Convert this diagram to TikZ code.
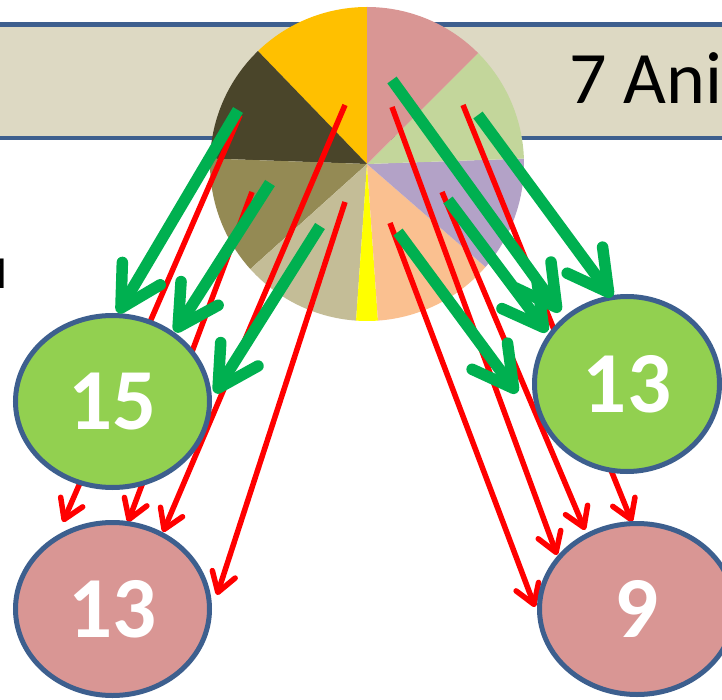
\documentclass[tikz,border=0pt]{standalone}
\usepackage{fontspec}
\setmainfont{Carlito}
\usetikzlibrary{arrows.meta,shapes.geometric}
\definecolor{edgeblue}{HTML}{3D5F8E}
\definecolor{bannerfill}{HTML}{DDD9C3}
\definecolor{pgold}{HTML}{FFC000}
\definecolor{ppink}{HTML}{D99694}
\definecolor{plgreen}{HTML}{C3D69B}
\definecolor{plav}{HTML}{B3A2C7}
\definecolor{ppeach}{HTML}{FAC090}
\definecolor{pyellow}{HTML}{FFFF00}
\definecolor{ptan}{HTML}{C4BD97}
\definecolor{polive}{HTML}{948A54}
\definecolor{pdark}{HTML}{4A452A}
\definecolor{arrgreen}{HTML}{00B050}
\definecolor{arrred}{HTML}{FF0000}
\definecolor{blobgreen}{HTML}{92D050}
\definecolor{blobpink}{HTML}{D99694}
\begin{document}
\begin{tikzpicture}[x=1pt,y=-1pt,
  garrow/.style={draw=arrgreen, line width=11.5pt, -{Straight Barb[length=40pt,width=44pt,round]}},
  rarrow/.style={draw=arrred, line width=5.5pt, -{Straight Barb[length=19pt,width=24pt,round]}},
  blob/.style={ellipse, draw=edgeblue, line width=5pt, inner sep=0pt, text=white,
    font=\bfseries\fontsize{87}{87}\selectfont}]
\useasboundingbox (0,0) rectangle (722,700);
\clip (0,0) rectangle (722,700);
% banner
\node[draw=edgeblue, fill=bannerfill, line width=4.5pt, rectangle, inner sep=0pt,
  minimum width=760pt, minimum height=113.5pt] (banner) at (361,81.25) {};
\node[anchor=base west, font=\fontsize{74}{74}\selectfont] (title) at (566,104) {7 Ani};
\node[anchor=base east, font=\fontsize{46}{46}\selectfont] (mtext) at (11,288) {M};
% pie
\coordinate (pc) at (367,164);
\foreach \a/\b/\c in {-90/-134/pgold, -134/-178/pdark, -178/-222/polive, -222/-266/ptan,
  -266/-274/pyellow, -274/-319/ppeach, -319/-362/plav, -2/-45/plgreen, -45/-90/ppink}{
  \fill[\c] (pc) -- ++(\a:157) arc[start angle=\a, end angle=\b, radius=157] -- cycle;
}
% red arrows
\foreach \n/\sx/\sy/\ex/\ey in {1/240/115/63/522, 2/252/192/128/522, 3/345/105/163/532,
  4/345/202/217/595, 5/392/107/557/555, 6/463/105/632/522, 7/442/192/585/530,
  8/390/223/535/607}{
  \coordinate (r\n s) at (\sx,\sy);
  \coordinate (r\n e) at (\ex,\ey);
  \draw[rarrow] (r\n s) -- (r\n e);
}
% ellipses
\node[blob, fill=blobgreen, minimum width=194pt, minimum height=172pt] (g15) at (112.5,401.5) {15};
\node[blob, fill=blobpink, minimum width=194pt, minimum height=173pt] (p13) at (112.5,609) {13};
\node[blob, fill=blobgreen, minimum width=185pt, minimum height=175pt] (g13) at (627,384) {13};
\node[blob, fill=blobpink, minimum width=195pt, minimum height=171pt] (p9) at (637,609) {9};
% green arrows
\foreach \n/\sx/\sy/\ex/\ey in {1/238/110/118/313, 2/270/183/175/332, 3/320/226/215/393,
  4/392/80/560/312, 5/448/200/547/332, 6/478/115/612/297, 7/398/232/517/393}{
  \coordinate (g\n s) at (\sx,\sy);
  \coordinate (g\n e) at (\ex,\ey);
  \draw[garrow] (g\n s) -- (g\n e);
}
\end{tikzpicture}
\end{document}
